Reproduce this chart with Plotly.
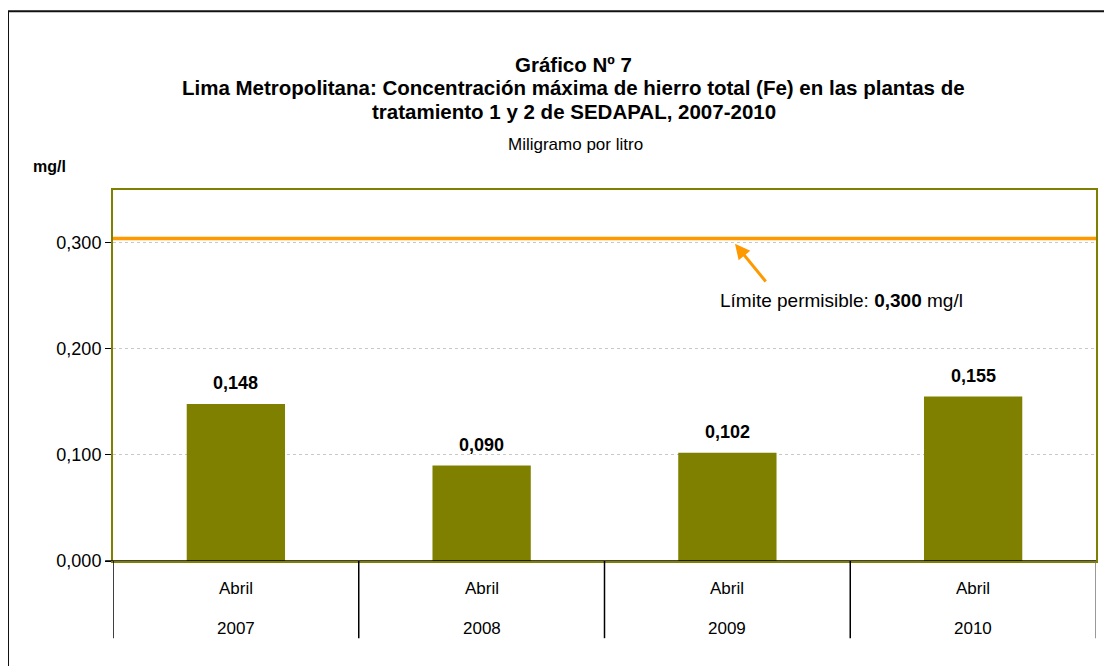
import plotly.graph_objects as go

months = ["Abril", "Abril", "Abril", "Abril"]
years = ["2007", "2008", "2009", "2010"]
values = [0.148, 0.090, 0.102, 0.155]
limit_value = 0.300
y_ticks = [0.0, 0.1, 0.2, 0.3]

OLIVE = "#808000"
ORANGE = "#FF9900"
FONT = "Liberation Sans, Arial, sans-serif"

xpos = list(range(len(years)))

fig = go.Figure()
fig.add_trace(go.Bar(
    x=xpos, y=values, width=0.4,
    marker=dict(color=OLIVE, line=dict(width=0)),
    showlegend=False, hoverinfo="skip",
))
for i, v in zip(xpos, values):
    fig.add_annotation(x=i, y=v, xref="x", yref="y", showarrow=False,
                       text="<b>" + f"{v:.3f}".replace(".", ",") + "</b>",
                       yshift=21, yanchor="middle", xanchor="center",
                       font=dict(family=FONT, size=18, color="black"))

# limit line
fig.add_shape(type="line", xref="paper", yref="y", x0=0, x1=1,
              y0=limit_value + 0.004, y1=limit_value + 0.004,
              line=dict(color=ORANGE, width=3.5), layer="above")

fig.add_annotation(x=2.031, y=limit_value - 0.001, xref="x", yref="y",
                   ax=2.161, ay=0.262, axref="x", ayref="y",
                   showarrow=True, arrowhead=2, arrowsize=1.0, arrowwidth=3,
                   arrowcolor=ORANGE, text="")
fig.add_annotation(x=2.466, y=0.2455, xref="x", yref="y", showarrow=False,
                   text="Límite permisible: <b>0,300</b> mg/l",
                   xanchor="center", yanchor="middle",
                   font=dict(family=FONT, size=19, color="black"))

# category labels
for i, (m, yr) in enumerate(zip(months, years)):
    fig.add_annotation(x=i, y=-0.0728, xref="x", yref="paper", showarrow=False,
                       text=m, xanchor="center", yanchor="middle",
                       font=dict(family=FONT, size=17, color="black"))
    fig.add_annotation(x=i, y=-0.1806, xref="x", yref="paper", showarrow=False,
                       text=yr, xanchor="center", yanchor="middle",
                       font=dict(family=FONT, size=17, color="black"))
for b in [-0.5, 0.5, 1.5, 2.5, 3.5]:
    fig.add_shape(type="line", xref="x", yref="paper", x0=b, x1=b,
                  y0=0, y1=-0.208,
                  line=dict(color="#777777" if b == 3.5 else "black", width=1.5))

# outer frame
fig.add_shape(type="rect", xref="paper", yref="paper",
              x0=-0.1068, x1=1.1, y0=-0.5, y1=1.482,
              line=dict(color="#111111", width=2), layer="below")

# titles
title_lines = [
    ("Gráfico Nº 7", 1.3396),
    ("Lima Metropolitana: Concentración máxima de hierro total (Fe) en las plantas de", 1.2776),
    ("tratamiento 1 y 2 de SEDAPAL, 2007-2010", 1.2129),
]
for txt, yy in title_lines:
    fig.add_annotation(xref="paper", yref="paper", x=0.4685, y=yy, showarrow=False,
                       text=f"<b>{txt}</b>", xanchor="center", yanchor="middle",
                       font=dict(family=FONT, size=20.5, color="black"))
fig.add_annotation(xref="paper", yref="paper", x=0.4705, y=1.1213, showarrow=False,
                   text="Miligramo por litro", xanchor="center", yanchor="middle",
                   font=dict(family=FONT, size=17, color="black"))
fig.add_annotation(xref="paper", yref="paper", x=-0.0645, y=1.062, showarrow=False,
                   text="<b>mg/l</b>", xanchor="center", yanchor="middle",
                   font=dict(family=FONT, size=16, color="black"))

fig.update_layout(
    width=1104, height=658,
    margin=dict(l=105, r=16, t=182, b=105),
    paper_bgcolor="white", plot_bgcolor="white",
    separators=",.",
    xaxis=dict(range=[-0.5, 3.5], showticklabels=False, showgrid=False,
               zeroline=False, showline=True, linecolor=OLIVE, linewidth=2,
               mirror=True, ticks=""),
    yaxis=dict(range=[0, 0.3497], tickvals=y_ticks, tickformat=".3f",
               showgrid=True, gridcolor="#c8c8c8", griddash="dot", gridwidth=1,
               zeroline=False, showline=True, linecolor=OLIVE, linewidth=2,
               mirror=True, ticks="outside", ticklen=6, tickcolor="black",
               tickfont=dict(family=FONT, size=18, color="black")),
)
# black baseline axis
fig.add_shape(type="line", xref="paper", yref="y", x0=-0.008, x1=1, y0=0, y1=0,
              line=dict(color="black", width=1.5), layer="above")

fig.write_html("out.html")
